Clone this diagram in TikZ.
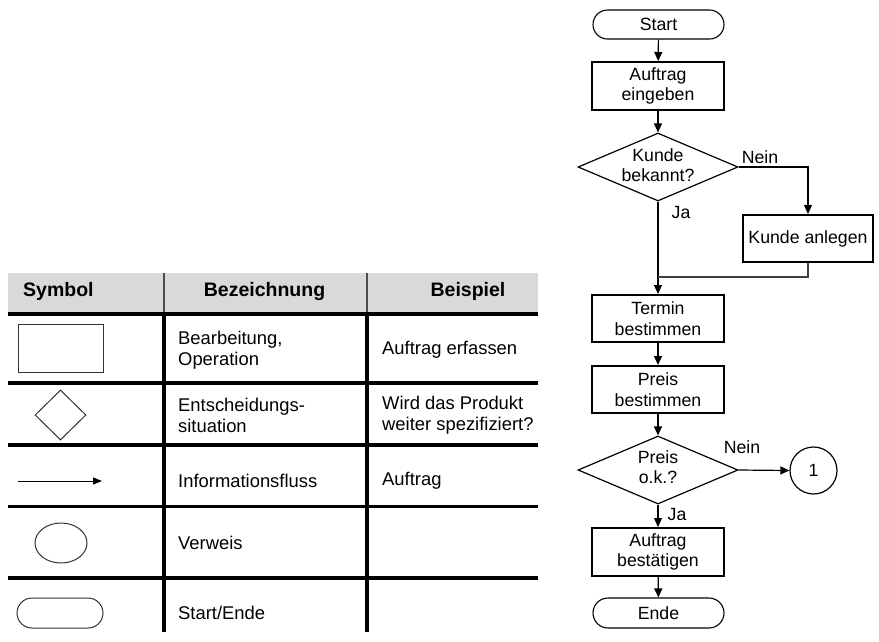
\documentclass[tikz,border=0pt]{standalone}
\usepackage{fontspec}
\setmainfont{Liberation Sans}
\usetikzlibrary{shapes.geometric,arrows.meta}

\tikzset{
  flow/.style={font=\fontsize{17.7}{20.5}\selectfont, align=center},
  procbox/.style={flow, draw, line width=2pt, minimum width=132pt, minimum height=47pt, inner sep=0pt},
  termbox/.style={flow, draw, line width=1.1pt, rounded corners=14.5pt, minimum width=131pt, minimum height=29pt, inner sep=0pt},
  decide/.style={draw, diamond, line width=1.2pt, minimum width=160pt, minimum height=68pt, inner sep=0pt},
  refcirc/.style={flow, draw, circle, line width=1.2pt, minimum size=47pt, inner sep=0pt},
  conn/.style={line width=1.2pt, -{Triangle[length=9pt,width=8pt]}},
  joinline/.style={line width=1.1pt, draw=black!75},
  lbl/.style={flow, inner sep=0pt},
  cell/.style={font=\fontsize{18.4}{21}\selectfont, align=left, anchor=west, inner sep=0pt},
  head/.style={font=\bfseries\fontsize{19.5}{22}\selectfont, inner sep=0pt},
  tablerule/.style={line width=3.6pt},
  sym/.style={draw=black!80, line width=1pt, inner sep=0pt},
}

\begin{document}
\begin{tikzpicture}[x=1pt,y=-1pt]
\useasboundingbox (0,0) rectangle (879,641);

% ---------- legend table ----------
\fill[black!15] (8,273) rectangle (538,312);
\node[head, anchor=west] (hsym) at (23,291) {Symbol};
\node[head] (hbez) at (264.5,291) {Bezeichnung};
\node[head] (hbei) at (468,291) {Beispiel};

\draw[line width=1.5pt, black!70] (164,273) -- (164,312);
\draw[line width=1.5pt, black!70] (367,273) -- (367,312);
\draw[tablerule] (164,312) -- (164,632);
\draw[tablerule] (367,312) -- (367,632);
\foreach \yy in {314,383,445,506.5,578}
  \draw[tablerule] (8,\yy) -- (538,\yy);

% row: process
\node[sym, minimum width=85pt, minimum height=48pt] (symbox) at (60.5,348) {};
\node[cell] (t1a) at (178,350) {Bearbeitung,\\Operation};
\node[cell] (t1b) at (382,350) {Auftrag erfassen};

% row: decision
\node[sym, diamond, minimum width=51pt, minimum height=50pt] (symdia) at (60.5,415) {};
\node[cell] (t2a) at (178,415) {Entscheidungs-\\situation};
\node[cell] (t2b) at (382,415) {Wird das Produkt\\weiter spezifiziert?};

% row: information flow
\coordinate (symarrA) at (18,481);
\coordinate (symarrB) at (102,481);
\draw[line width=1pt, -{Triangle[length=9pt,width=7pt]}] (symarrA) -- (symarrB);
\node[cell] (t3a) at (178,481) {Informationsfluss};
\node[cell] (t3b) at (382,481) {Auftrag};

% row: reference
\node[sym, ellipse, minimum width=52pt, minimum height=40pt] (symell) at (61,543) {};
\node[cell] (t4a) at (178,543) {Verweis};

% row: start / end
\node[sym, rounded corners=15pt, minimum width=86pt, minimum height=30pt] (symterm) at (60,613) {};
\node[cell] (t5a) at (178,613) {Start/Ende};

% ---------- flowchart ----------
\node[termbox] (start) at (658.5,24.5) {Start};
\node[procbox, minimum height=48pt] (eingeben) at (658,86) {Auftrag\\eingeben};
\node[decide] (kunde) at (658,167) {};
\node[flow] (kundetxt) at (658,165) {Kunde\\bekannt?};
\node[procbox, minimum width=130pt] (anlegen) at (808,238.5) {Kunde anlegen};
\coordinate (merge) at (658,277);
\node[procbox] (termin) at (658,318.5) {Termin\\bestimmen};
\node[procbox] (preis) at (658,389.5) {Preis\\bestimmen};
\node[decide] (preisok) at (658,470) {};
\node[flow] (preisoktxt) at (658,467) {Preis\\o.k.?};
\node[refcirc] (verweis) at (813.5,470.5) {1};
\node[procbox, minimum height=48pt] (bestaetigen) at (658,552) {Auftrag\\bestätigen};
\node[termbox, minimum height=30pt, rounded corners=15pt] (ende) at (658.5,613) {Ende};

\draw[conn] (start) -- (eingeben);
\draw[conn] (eingeben) -- (kunde);
\draw[conn] (kunde.east) -| (anlegen.north);
\node[lbl] (nein1) at (760,157) {Nein};
\draw[conn] (kunde.south) -- (termin.north);
\node[lbl] (ja1) at (681,212) {Ja};
\draw[joinline] (anlegen.south) |- (merge);
\draw[conn] (termin) -- (preis);
\draw[conn] (preis) -- (preisok);
\draw[conn] (preisok.east) -- (verweis.west);
\node[lbl] (nein2) at (742,447) {Nein};
\draw[conn] (preisok.south) -- (bestaetigen.north);
\node[lbl] (ja2) at (677,514) {Ja};
\draw[conn] (bestaetigen) -- (ende);
\end{tikzpicture}
\end{document}
